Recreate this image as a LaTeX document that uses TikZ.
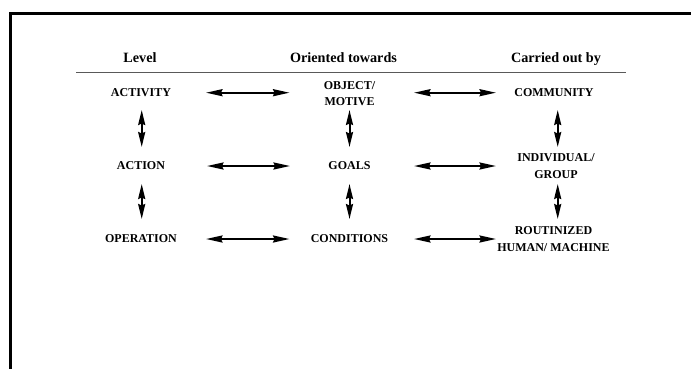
\documentclass[tikz,border=0pt]{standalone}
\usepackage{fontspec}
\setmainfont{Liberation Serif}
\usetikzlibrary{arrows.meta}
\begin{document}
\begin{tikzpicture}[x=1pt,y=-1pt,
  hdr/.style={font=\bfseries\fontsize{14.2}{17}\selectfont, inner sep=0pt, anchor=base},
  item/.style={font=\bfseries\fontsize{12}{16.5}\selectfont, align=center, inner sep=0pt},
  dbl/.style={line width=2pt, {Stealth[length=16.5pt,width=7pt,inset=1.5pt]}-{Stealth[length=16.5pt,width=7pt,inset=1.5pt]}},
  vdbl/.style={line width=2pt, {Stealth[length=15pt,width=7pt,inset=1.5pt]}-{Stealth[length=15pt,width=7pt,inset=1.5pt]}}]
\useasboundingbox (0,0) rectangle (691,368);
\clip (0,0) rectangle (691,368);
\fill[white] (0,0) rectangle (691,368);
% frame (only top and left edges visible)
\draw[line width=2.7pt] (10.5,400) -- (10.5,13.7) -- (720,13.7);
% headers
\node[hdr] (hlevel) at (140,62.5) {Level};
\node[hdr] (horient) at (343.5,62.5) {Oriented towards};
\node[hdr] (hcarried) at (556,62.5) {Carried out by};
\coordinate (ruleL) at (76,72.5);
\coordinate (ruleR) at (625.5,72.5);
\draw[line width=1.1pt, draw=black!65] (ruleL) -- (ruleR);
% column 1
\node[item] (activity) at (141,92.7) {ACTIVITY};
\node[item] (action) at (141,166) {ACTION};
\node[item] (operation) at (141,239) {OPERATION};
% column 2
\node[item] (object) at (349.5,93.5) {OBJECT/\\MOTIVE};
\node[item] (goals) at (349.5,166) {GOALS};
\node[item] (conditions) at (349.5,239) {CONDITIONS};
% column 3
\node[item] (community) at (554,92.7) {COMMUNITY};
\node[item] (individual) at (556,166) {INDIVIDUAL/\\GROUP};
\node[item] (routinized) at (553.5,239) {ROUTINIZED\\HUMAN/ MACHINE};
% horizontal arrows
\draw[dbl] ([xshift=65pt]activity.center) -- ([xshift=-60pt,yshift=0.8pt]object.center);
\draw[dbl] ([xshift=66pt]action.center) -- ([xshift=-59.5pt]goals.center);
\draw[dbl] ([xshift=65pt]operation.center) -- ([xshift=-60pt]conditions.center);
\draw[dbl] ([xshift=64.5pt,yshift=0.8pt]object.center) -- ([xshift=-58pt]community.center);
\draw[dbl] ([xshift=64.5pt]goals.center) -- ([xshift=-60pt]individual.center);
\draw[dbl] ([xshift=64.5pt]conditions.center) -- ([xshift=-57.5pt]routinized.center);
% vertical arrows
\draw[vdbl] ([xshift=0.7pt,yshift=-17.3pt]activity.center) -- ([xshift=0.7pt,yshift=19pt]action.center);
\draw[vdbl] ([xshift=0.7pt,yshift=-18pt]action.center) -- ([xshift=0.7pt,yshift=20pt]operation.center);
\draw[vdbl] ([yshift=-16.5pt]object.center) -- ([yshift=19pt]goals.center);
\draw[vdbl] ([yshift=-18pt]goals.center) -- ([yshift=20pt]conditions.center);
\draw[vdbl] ([xshift=3.7pt,yshift=-17.3pt]community.center) -- ([xshift=1.7pt,yshift=19pt]individual.center);
\draw[vdbl] ([xshift=1.7pt,yshift=-18pt]individual.center) -- ([xshift=4.2pt,yshift=20pt]routinized.center);
\end{tikzpicture}
\end{document}
